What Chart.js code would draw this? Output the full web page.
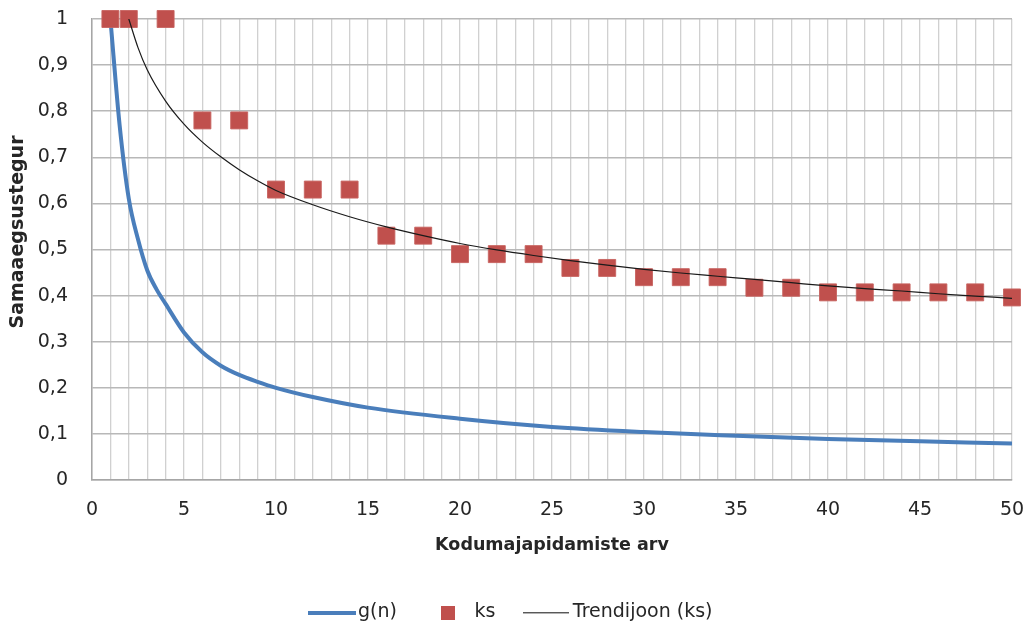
<!DOCTYPE html>
<html>
<head>
<meta charset="utf-8">
<title>Samaaegsustegur</title>
<script src="https://cdn.jsdelivr.net/npm/chart.js@4.4.1/dist/chart.umd.min.js"></script>
<style>
  html, body { margin: 0; padding: 0; background: #fff; }
  #chart { display: block; }
</style>
</head>
<body>
<canvas id="chart" width="1027" height="626"></canvas>
<script>
// g(n) curve
const gX = [1, 1.5, 2, 2.5, 3, 3.5, 4, 5, 6, 7, 8, 9, 10, 12, 15, 20, 25, 30, 35, 40, 45, 50];
const gY = [1, 0.77, 0.61, 0.522, 0.455, 0.414, 0.382, 0.32, 0.277, 0.248, 0.228, 0.213, 0.2, 0.18, 0.157, 0.133, 0.115, 0.104, 0.096, 0.089, 0.084, 0.079];

// ks points
const ksX = [1, 2, 4, 6, 8, 10, 12, 14, 16, 18, 20, 22, 24, 26, 28, 30, 32, 34, 36, 38, 40, 42, 44, 46, 48, 50];
const ksY = [1, 1, 1, 0.78, 0.78, 0.63, 0.63, 0.63, 0.53, 0.53, 0.49, 0.49, 0.49, 0.46, 0.46, 0.44, 0.44, 0.44, 0.417, 0.417, 0.407, 0.407, 0.407, 0.407, 0.407, 0.396];

// trend line (ks)
const trendX = [2, 2.5, 3, 4, 5, 6, 7, 8, 9, 10, 12, 14, 16, 18, 20, 22, 24, 26, 28, 30, 32, 34, 36, 38, 40, 42, 44, 46, 48, 50];
const trendY = [1.0, 0.938, 0.89, 0.822, 0.772, 0.733, 0.701, 0.673, 0.649, 0.628, 0.597, 0.571, 0.549, 0.53, 0.513, 0.499, 0.487, 0.476, 0.466, 0.457, 0.449, 0.442, 0.435, 0.428, 0.421, 0.415, 0.41, 0.404, 0.399, 0.394];

const seriesLabels = ['g(n)', 'ks', 'Trendijoon (ks)'];
const xTitle = 'Kodumajapidamiste arv';
const yTitle = 'Samaaegsustegur';

const BLUE = '#4A7EBB';
const RED = '#C0504D';
const TEXT = '#262626';

function toPoints(xs, ys) {
  return xs.map((x, i) => ({ x: x, y: ys[i] }));
}

// small canvases used as legend symbols
function makeIcon(w, h, draw) {
  const c = document.createElement('canvas');
  c.width = w;
  c.height = h;
  draw(c.getContext('2d'), w, h);
  return c;
}

const legendIcons = [
  makeIcon(48, 4, (ctx, w, h) => { ctx.fillStyle = BLUE; ctx.fillRect(0, 0, w, h); }),
  makeIcon(14, 14, (ctx, w, h) => { ctx.fillStyle = RED; ctx.fillRect(0, 0, w, h); }),
  makeIcon(46, 2, (ctx, w, h) => { ctx.fillStyle = '#000'; ctx.fillRect(0, 0, w, 1.3); }),
];

// rotated y axis title, drawn a bit above the plot centre
const yTitlePlugin = {
  id: 'yTitle',
  afterDraw(chart) {
    const ctx = chart.ctx;
    ctx.save();
    ctx.translate(18, 232);
    ctx.rotate(-Math.PI / 2);
    ctx.font = 'bold 19px "DejaVu Sans"';
    ctx.fillStyle = TEXT;
    ctx.textAlign = 'center';
    ctx.textBaseline = 'middle';
    ctx.fillText(yTitle, 0, 0);
    ctx.restore();
  },
};

Chart.defaults.font.family = '"DejaVu Sans", sans-serif';
Chart.defaults.font.size = 19;
Chart.defaults.color = TEXT;

const ctx = document.getElementById('chart').getContext('2d');

new Chart(ctx, {
  type: 'scatter',
  data: {
    datasets: [
      {
        label: seriesLabels[0],
        data: toPoints(gX, gY),
        showLine: true,
        borderColor: BLUE,
        backgroundColor: BLUE,
        borderWidth: 4,
        pointRadius: 0,
        cubicInterpolationMode: 'monotone',
        order: 2,
      },
      {
        label: seriesLabels[1],
        data: toPoints(ksX, ksY),
        showLine: false,
        pointStyle: 'rect',
        pointRadius: 12,
        pointHoverRadius: 12,
        backgroundColor: RED,
        borderColor: 'rgba(200, 100, 97, 0.9)',
        borderWidth: 1,
        clip: false,
        order: 1,
      },
      {
        label: seriesLabels[2],
        data: toPoints(trendX, trendY),
        showLine: true,
        borderColor: '#1a1a1a',
        backgroundColor: '#1a1a1a',
        borderWidth: 1.2,
        pointRadius: 0,
        cubicInterpolationMode: 'monotone',
        order: 0,
      },
    ],
  },
  options: {
    responsive: false,
    animation: false,
    layout: {
      autoPadding: false,
      padding: { left: 0, right: 0, top: 19, bottom: -6 },
    },
    scales: {
      x: {
        type: 'linear',
        min: 0,
        max: 50,
        afterFit: (scale) => {
          scale.height = 89;
          scale.paddingLeft = 0;
          scale.paddingRight = 15;
        },
        grid: { color: '#d0d0d0', lineWidth: 1.3, drawTicks: false },
        border: { color: '#a6a6a6', width: 1.5 },
        ticks: {
          stepSize: 1,
          autoSkip: false,
          maxRotation: 0,
          padding: 19,
          callback: (v) => (v % 5 === 0 ? String(v) : ''),
        },
        title: {
          display: true,
          text: xTitle,
          font: { weight: 'bold', size: 17.5 },
          padding: { top: 0, bottom: 13 },
        },
      },
      y: {
        min: 0,
        max: 1,
        afterFit: (scale) => {
          scale.width = 92;
          scale.paddingTop = 0;
          scale.paddingBottom = 0;
        },
        grid: { color: '#b8b8b8', lineWidth: 1.6, drawTicks: false },
        border: { color: '#a6a6a6', width: 1.5 },
        ticks: {
          stepSize: 0.1,
          padding: 24,
          callback: (v) => {
            if (v === 0) return '0';
            if (Math.abs(v - 1) < 1e-9) return '1';
            return v.toFixed(1).replace('.', ',');
          },
        },
      },
    },
    plugins: {
      legend: {
        position: 'bottom',
        labels: {
          usePointStyle: true,
          pointStyleWidth: 34,
          padding: 34,
          color: TEXT,
          font: { size: 19 },
          sort: (a, b) => a.datasetIndex - b.datasetIndex,
          generateLabels: (chart) => {
            const items = Chart.defaults.plugins.legend.labels.generateLabels(chart);
            return items.map((item) => {
              item.pointStyle = legendIcons[item.datasetIndex];
              return item;
            });
          },
        },
      },
      tooltip: { enabled: false },
    },
  },
  plugins: [yTitlePlugin],
});
</script>
</body>
</html>
